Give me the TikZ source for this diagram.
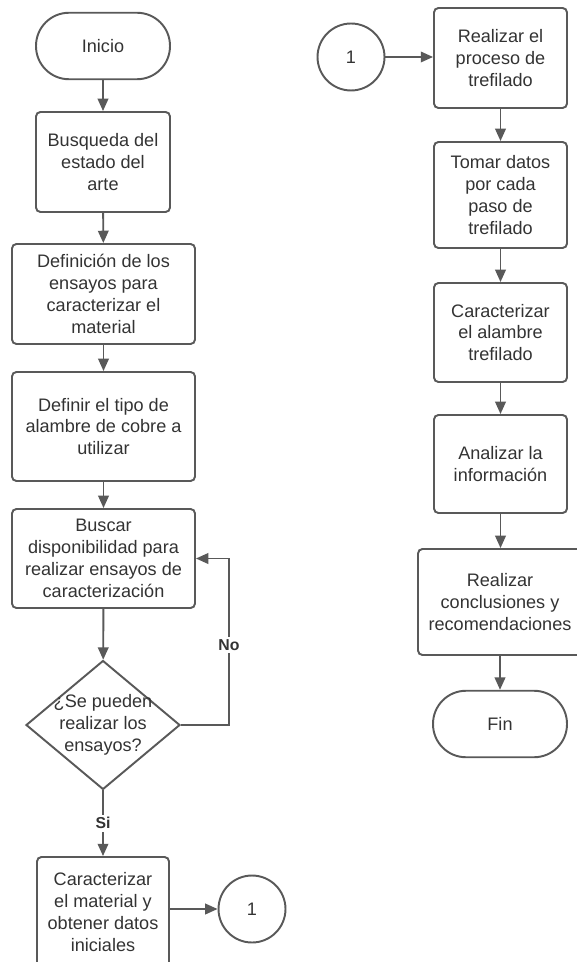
\documentclass[tikz,border=0pt]{standalone}
\usepackage{fontspec}
\setmainfont{Liberation Sans}
\usetikzlibrary{arrows.meta,shapes.geometric,positioning}
\definecolor{linea}{HTML}{595959}
\definecolor{texto}{HTML}{333333}

\begin{document}
\begin{tikzpicture}[x=0.02cm, y=-0.02cm,
    font=\fontsize{10.3}{12.5}\selectfont, text=texto,
    caja/.style={draw=linea, line width=1.1pt, rounded corners=2.5pt, align=center, inner sep=2pt},
    terminal/.style={draw=linea, line width=1.1pt, rounded corners=0.66cm, minimum width=2.68cm, minimum height=1.33cm},
    conector/.style={circle, draw=linea, line width=1.1pt, minimum size=1.34cm, inner sep=0pt},
    decision/.style={diamond, draw=linea, line width=1.1pt, minimum width=3.08cm, minimum height=2.58cm, inner sep=0pt},
    flecha/.style={draw=linea, line width=1.1pt, -{Triangle[length=7pt,width=6pt]}},
    etiqueta/.style={fill=white, font=\fontsize{9}{10}\selectfont\bfseries, inner sep=1.5pt}]
    \useasboundingbox (0,0) rectangle (576,962);

    % columna izquierda
    \node[terminal] (inicio) at (103,46) {Inicio};
    \node[caja, minimum width=2.68cm, minimum height=2.0cm] (busqueda) at (103,162) {Busqueda del\\estado del\\arte};
    \node[caja, minimum width=3.66cm, minimum height=2.0cm] (ensayos) at (103.5,294) {Definición de los\\ensayos para\\caracterizar el\\material};
    \node[caja, minimum width=3.66cm, minimum height=2.18cm] (alambre) at (103.5,426.5) {Definir el tipo de\\alambre de cobre a\\utilizar};
    \node[caja, minimum width=3.66cm, minimum height=1.98cm] (buscar) at (103.5,558.5) {Buscar\\disponibilidad para\\realizar ensayos de\\caracterización};
    \node[decision, label={[align=center]center:¿Se pueden\\realizar los\\ensayos?}] (pregunta) at (103,725) {};
    \node[caja, minimum width=2.64cm, minimum height=2.2cm] (material) at (103,912) {Caracterizar\\el material y\\obtener datos\\iniciales};
    \node[conector] (unoA) at (252,909) {1};

    % columna derecha
    \node[conector] (unoB) at (351,57) {1};
    \node[caja, minimum width=2.66cm, minimum height=2.0cm] (proceso) at (500.5,58) {Realizar el\\proceso de\\trefilado};
    \node[caja, minimum width=2.66cm, minimum height=2.12cm] (datos) at (500.5,195) {Tomar datos\\por cada\\paso de\\trefilado};
    \node[caja, minimum width=2.66cm, minimum height=1.98cm] (caracter) at (500.5,332.5) {Caracterizar\\el alambre\\trefilado};
    \node[caja, minimum width=2.66cm, minimum height=1.96cm] (analizar) at (500.5,464) {Analizar la\\información};
    \node[caja, minimum width=3.28cm, minimum height=2.12cm] (conclusion) at (500,602) {Realizar\\conclusiones y\\recomendaciones};
    \node[terminal] (fin) at (500,724) {Fin};

    % flechas
    \draw[flecha] (inicio) -- (busqueda);
    \draw[flecha] (busqueda) -- (ensayos);
    \draw[flecha] (ensayos) -- (alambre);
    \draw[flecha] (alambre) -- (buscar);
    \draw[flecha] (buscar) -- (pregunta);
    \draw[flecha] (pregunta.east) -- ++(48,0) |- (buscar.east) node[pos=0.24, etiqueta] {No};
    \draw[flecha] (pregunta.south) -- (material.north) node[midway, etiqueta] {Si};
    \draw[flecha] (material.east |- unoA) -- (unoA);
    \draw[flecha] (unoB) -- (unoB -| proceso.west);
    \draw[flecha] (proceso) -- (datos);
    \draw[flecha] (datos) -- (caracter);
    \draw[flecha] (caracter) -- (analizar);
    \draw[flecha] (analizar) -- (conclusion.north -| analizar);
    \draw[flecha] (conclusion.south -| fin) -- (fin);
\end{tikzpicture}
\end{document}
